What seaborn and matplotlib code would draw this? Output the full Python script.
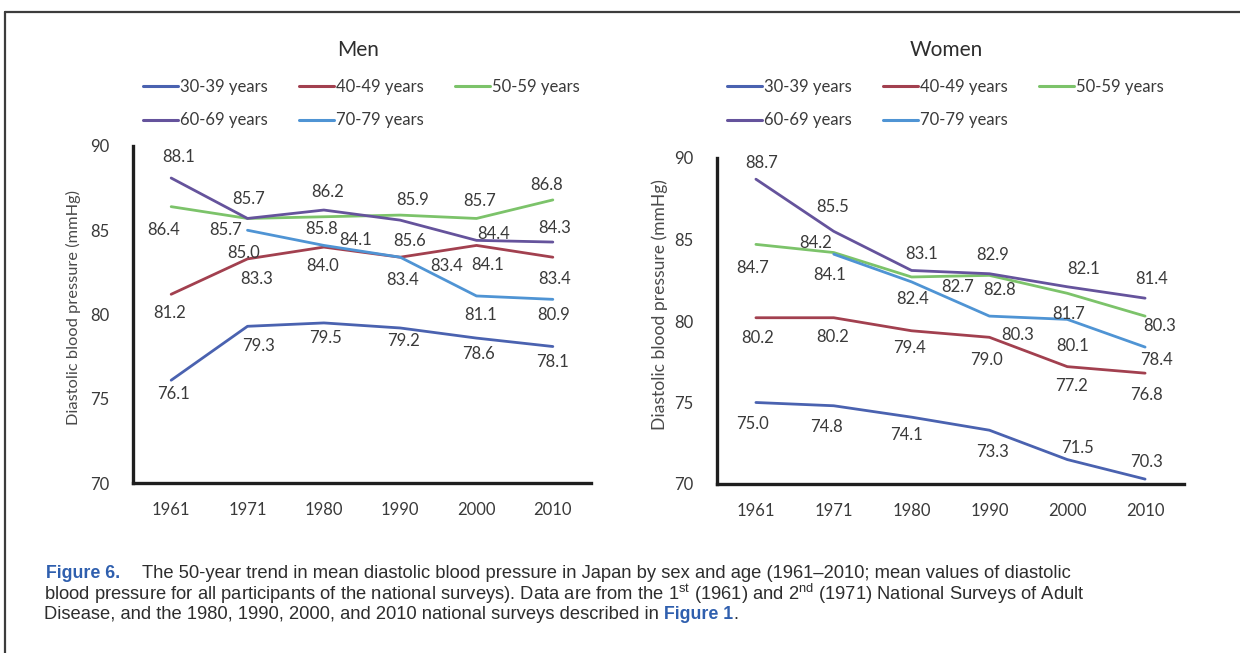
import numpy as np
import pandas as pd
import matplotlib
matplotlib.use("Agg")
import matplotlib.pyplot as plt
from matplotlib.lines import Line2D
import seaborn as sns

# ---------------- data ----------------
years = ["1961", "1971", "1980", "1990", "2000", "2010"]
age_groups = ["30-39 years", "40-49 years", "50-59 years", "60-69 years", "70-79 years"]

men_30_39 = [76.1, 79.3, 79.5, 79.2, 78.6, 78.1]
men_40_49 = [81.2, 83.3, 84.0, 83.4, 84.1, 83.4]
men_50_59 = [86.4, 85.7, 85.8, 85.9, 85.7, 86.8]
men_60_69 = [88.1, 85.7, 86.2, 85.6, 84.4, 84.3]
men_70_79 = [np.nan, 85.0, 84.1, 83.4, 81.1, 80.9]

women_30_39 = [75.0, 74.8, 74.1, 73.3, 71.5, 70.3]
women_40_49 = [80.2, 80.2, 79.4, 79.0, 77.2, 76.8]
women_50_59 = [84.7, 84.2, 82.7, 82.8, 81.7, 80.3]
women_60_69 = [88.7, 85.5, 83.1, 82.9, 82.1, 81.4]
women_70_79 = [np.nan, 84.1, 82.4, 80.3, 80.1, 78.4]

y_ticks = [70, 75, 80, 85, 90]

# ---------------- styles ----------------
colors = ["#4A62B0", "#A2404F", "#7CC36A", "#65539C", "#4F94D4"]
# data-label offsets in pixels (dx right, dy down) from each point
men_label_off = [
    [(2, 12), (11, 18), (2, 14), (3, 12), (2, 14), (0, 14)],
    [(-2, 17), (9, 19), (-1, 17), (2, 21), (11, 18), (2, 20)],
    [(-8, 22), (-22, 10), (-2, 11), (12, -17), (3, -19), (-6, -16)],
    [(7, -23), (1, -21), (4, -20), (9, 19), (17, -8), (2, -16)],
    [None, (-4, 21), (32, -7), (46, 7), (4, 18), (1, 14)],
]
women_label_off = [
    [(-3, 20), (-7, 20), (-5, 16), (3, 20), (10, -13), (1, -19)],
    [(2, 19), (-1, 18), (-2, 16), (-3, 21), (4, 18), (1, 20)],
    [(-3, 22), (-18, -11), (46, 9), (10, 13), (1, 19), (15, 8)],
    [(6, -18), (-1, -26), (10, -18), (3, -20), (16, -19), (7, -21)],
    [None, (-4, 19), (1, 16), (28, 17), (5, 25), (11, 11)],
]

sns.set_theme(style="white")
plt.rcParams["font.family"] = ["Lato", "DejaVu Sans"]
plt.rcParams["mathtext.fontset"] = "custom"
plt.rcParams["mathtext.rm"] = "Liberation Sans"
plt.rcParams["mathtext.it"] = "Liberation Sans:italic"
plt.rcParams["mathtext.bf"] = "Liberation Sans:bold"

TXT = "#3a3a3a"
W, H = 1240, 653
fig = plt.figure(figsize=(W / 100, H / 100), dpi=100)
fig.patch.set_facecolor("white")


def px_rect(l, t, r, b):
    return [l / W, 1 - b / H, (r - l) / W, (b - t) / H]


ax_m = fig.add_axes(px_rect(133, 146, 591, 483))
ax_w = fig.add_axes(px_rect(717, 158, 1184, 484))


def draw_panel(ax, series, offsets, title, legend_x, legend_top, ylabel_xy, ylabel_fs):
    rows = []
    for g, vals in zip(age_groups, series):
        for i, (yr, v) in enumerate(zip(years, vals)):
            if not np.isnan(v):
                rows.append({"pos": i, "year": yr, "bp": v, "age": g})
    df = pd.DataFrame(rows)
    sns.lineplot(data=df, x="pos", y="bp", hue="age", hue_order=age_groups,
                 palette=colors, linewidth=2.0, errorbar=None, ax=ax,
                 legend=True)
    # data labels
    for si, (g, vals) in enumerate(zip(age_groups, series)):
        for i, v in enumerate(vals):
            if np.isnan(v):
                continue
            dx, dy = offsets[si][i]
            ax.annotate(f"{v:.1f}", xy=(i, v), xytext=(dx, -dy),
                        textcoords="offset pixels", ha="center",
                        va="center_baseline", fontsize=12, color=TXT)
    ax.set_xlim(-0.5, len(years) - 0.5)
    ax.set_ylim(70, 90)
    ax.set_xticks(range(len(years)))
    ax.set_xticklabels(years)
    ax.set_yticks(y_ticks)
    ax.tick_params(axis="x", length=0, pad=14, labelsize=12, colors=TXT)
    ax.tick_params(axis="y", length=0, pad=17, labelsize=12, colors=TXT)
    for s in ["top", "right"]:
        ax.spines[s].set_visible(False)
    for s in ["left", "bottom"]:
        ax.spines[s].set_linewidth(2.4)
        ax.spines[s].set_color("#1e1e1e")
    ax.set_xlabel("")
    ax.set_ylabel("Diastolic blood pressure (mmHg)", fontsize=ylabel_fs, color="#4a4a4a")
    ax.yaxis.set_label_coords(*ylabel_xy)
    ax.grid(False)

    handles, labels = ax.get_legend_handles_labels()
    ax.get_legend().remove()
    order = [0, 3, 1, 4, 2]
    hs = [Line2D([], [], color=colors[k], linewidth=2.2) for k in order]
    ls = [labels[k] for k in order]
    ax.legend(hs, ls, ncol=3, loc="upper left",
              bbox_to_anchor=(legend_x / W, 1 - legend_top / H),
              bbox_transform=fig.transFigure, frameon=False,
              borderpad=0, borderaxespad=0, handlelength=2.1,
              handletextpad=0.1, columnspacing=1.9, labelspacing=1.05,
              prop={"family": ["Lato"], "size": 12}, labelcolor=TXT)
    pos = ax.get_position()
    fig.text((pos.x0 + pos.x1) / 2 - 4 / W, 1 - 50 / H, title,
             ha="center", va="center", fontsize=15, color="#2e2e2e")


draw_panel(ax_m, [men_30_39, men_40_49, men_50_59, men_60_69, men_70_79],
           men_label_off, "Men", 143, 79, (-0.113, 0.52), 11.8)
draw_panel(ax_w, [women_30_39, women_40_49, women_50_59, women_60_69, women_70_79],
           women_label_off, "Women", 727, 79, (-0.105, 0.55), 12.6)

# frame lines of the figure panel
fig.add_artist(Line2D([5 / W, 1], [1 - 12 / H, 1 - 12 / H], transform=fig.transFigure,
                      color="#3c3c3c", linewidth=1.6))
fig.add_artist(Line2D([5 / W, 5 / W], [0, 1 - 12 / H], transform=fig.transFigure,
                      color="#3c3c3c", linewidth=1.6))

# caption
CAP = "#2d2d2d"
BLUE = "#2F5FAE"
cap_font = ["Liberation Sans", "DejaVu Sans"]
bold_font = ["Liberation Sans Narrow", "Liberation Sans", "DejaVu Sans"]
fs = 13.2
b1, b2, b3 = 578.5, 600, 619
fig.text(46 / W, 1 - b1 / H, "Figure 6.", ha="left", va="baseline",
         fontsize=12.8, fontweight="bold", fontstretch="condensed", color=BLUE,
         family=bold_font)
fig.text(142 / W, 1 - b1 / H,
         "The 50-year trend in mean diastolic blood pressure in Japan by sex and age "
         "(1961\u20132010; mean values of diastolic",
         ha="left", va="baseline", fontsize=fs, color=CAP, family=cap_font)
fig.text(44 / W, 1 - b2 / H,
         "blood pressure for all participants of the national surveys). Data are from the "
         r"1$^{\mathrm{st}}$ (1961) and 2$^{\mathrm{nd}}$ (1971) National Surveys of Adult",
         ha="left", va="baseline", fontsize=fs, color=CAP, family=cap_font)
t3 = fig.text(44 / W, 1 - b3 / H,
              "Disease, and the 1980, 1990, 2000, and 2010 national surveys described in ",
              ha="left", va="baseline", fontsize=fs, color=CAP, family=cap_font)
t4 = fig.text(0, 0, "Figure 1", ha="left", va="baseline", fontsize=12.8,
              fontweight="bold", fontstretch="condensed", color=BLUE, family=bold_font)
fig.canvas.draw()
r = fig.canvas.get_renderer()
bb = t3.get_window_extent(r)
t4.set_position((bb.x1 / W, t3.get_position()[1]))
bb4 = t4.get_window_extent(r)
fig.text(bb4.x1 / W, t3.get_position()[1], ".", ha="left", va="baseline",
         fontsize=fs, color=CAP, family=cap_font)

fig.savefig("out.png", dpi=100, facecolor="white")
